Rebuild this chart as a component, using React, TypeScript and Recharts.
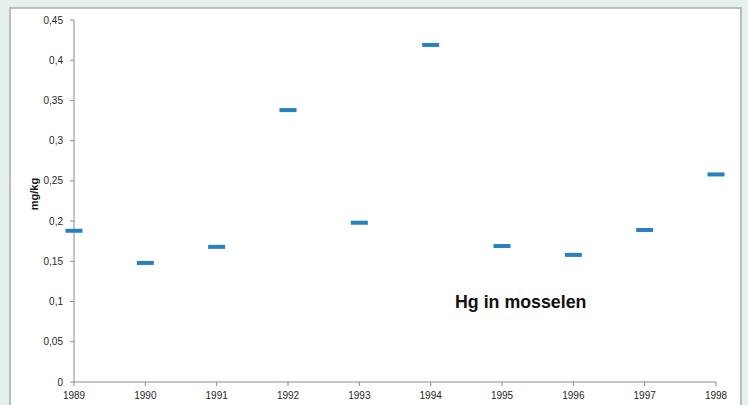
import React from "react";
import { ScatterChart, Scatter, XAxis, YAxis } from "recharts";

const years = [1989, 1990, 1991, 1992, 1993, 1994, 1995, 1996, 1997, 1998];
const hgValues = [0.188, 0.148, 0.168, 0.338, 0.198, 0.419, 0.169, 0.158, 0.189, 0.258];
const yTicks = [0, 0.05, 0.1, 0.15, 0.2, 0.25, 0.3, 0.35, 0.4, 0.45];

const data = years.map((year, i) => ({ year, hg: hgValues[i] }));

const fmt = (v: number) => String(Math.round(v * 100) / 100).replace(".", ",");

const Dash = (props: any) => {
	const { cx, cy } = props;
	if (cx == null || cy == null) return null;
	return <rect x={cx - 8.5} y={cy - 2} width={17} height={4} fill="#2680c2" />;
};

const tickStyle = { fill: "#262626", fontSize: 10, fontFamily: "Liberation Sans" };

export default function App() {
	return (
		<div
			style={{
				position: "fixed",
				left: 0,
				top: 0,
				width: 748,
				height: 405,
				background: "#e4f1ec",
				overflow: "hidden",
			}}
		>
			<div
				style={{
					position: "absolute",
					left: 9,
					top: 7,
					width: 729,
					height: 420,
					background: "#fff",
					border: "2px solid #bdbdbd",
				}}
			/>
			<div style={{ position: "absolute", left: 0, top: 0 }}>
				<ScatterChart
					width={748}
					height={405}
					margin={{ top: 20, right: 32, bottom: 0, left: 0 }}
				>
					<XAxis
						type="number"
						dataKey="year"
						domain={[1989, 1998]}
						ticks={years}
						interval={0}
						height={23}
						stroke="#8a8a8a"
						tickSize={4}
						tickMargin={6}
						tick={tickStyle}
					/>
					<YAxis
						type="number"
						dataKey="hg"
						domain={[0, 0.45]}
						ticks={yTicks}
						interval={0}
						width={74}
						stroke="#8a8a8a"
						tickSize={4}
						tickMargin={7}
						tickFormatter={fmt}
						tick={tickStyle}
					/>
					<Scatter data={data} shape={Dash} isAnimationActive={false} />
				</ScatterChart>
			</div>
			<div
				style={{
					position: "absolute",
					left: 34,
					top: 194,
					width: 0,
					height: 0,
				}}
			>
				<div
					style={{
						position: "absolute",
						left: -40,
						top: -7,
						width: 80,
						textAlign: "center",
						transform: "rotate(-90deg)",
						fontFamily: "Liberation Sans",
						fontWeight: "bold",
						fontSize: 11,
						lineHeight: "14px",
						color: "#1a1a1a",
					}}
				>
					mg/kg
				</div>
			</div>
			<div
				style={{
					position: "absolute",
					left: 455,
					top: 292,
					fontFamily: "Liberation Sans",
					fontWeight: "bold",
					fontSize: 17.8,
					color: "#111",
					whiteSpace: "nowrap",
				}}
			>
				Hg in mosselen
			</div>
		</div>
	);
}
